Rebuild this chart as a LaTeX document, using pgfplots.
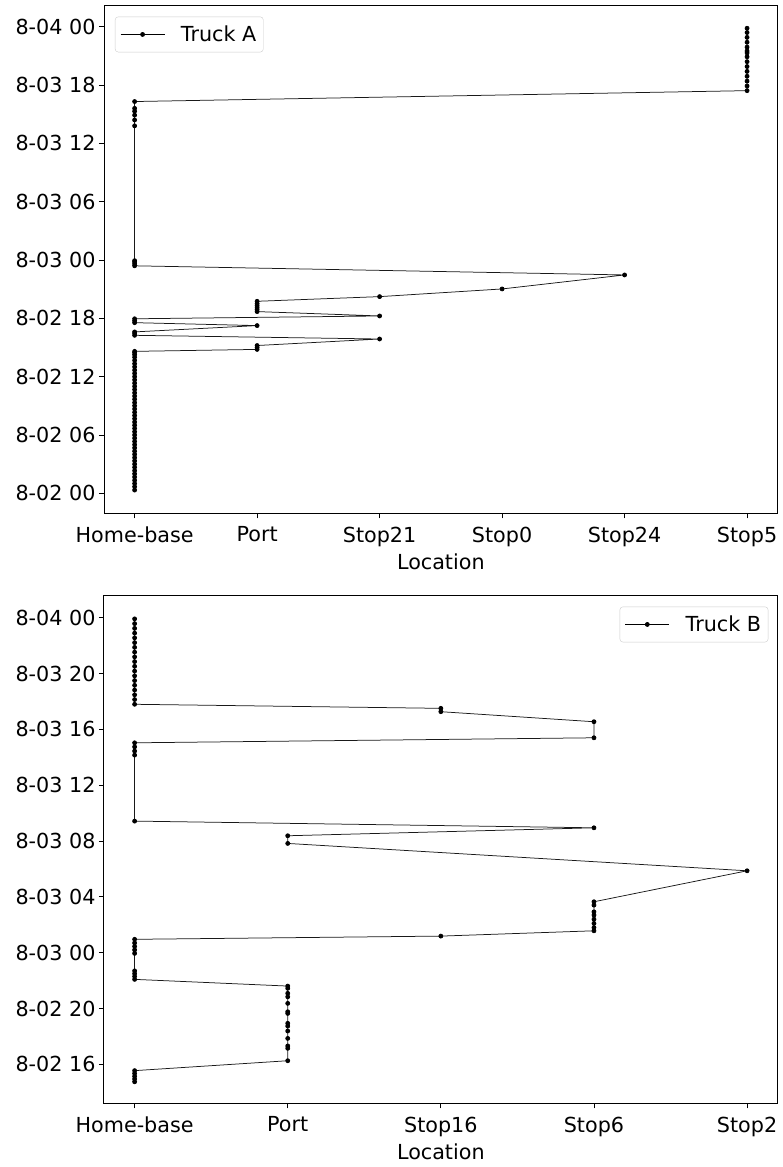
\documentclass[border=0pt]{standalone}
\usepackage{fontspec}
\setmainfont{DejaVu Sans}
\usepackage{pgfplots}
\pgfplotsset{compat=1.18}

\begin{document}
\begin{tikzpicture}[x=1pt,y=1pt]
\path[use as bounding box] (0,0) rectangle (782,1167);
\pgfplotsset{
  mystyle/.style={
    scale only axis, width=673.7pt, height=507.3pt, anchor=south west,
    axis line style={line width=1pt},
    tick align=outside, tick pos=left, major tick length=5pt,
    tick style={black, line width=0.8pt},
    font=\fontsize{20.7}{25}\selectfont,
    xlabel={Location},
    xticklabel style={yshift=-5pt},
    xlabel style={yshift=-0.5pt},
    xtick={0,1,2,3,4,5},
    legend cell align=left,
    legend image code/.code={\draw[black, line width=0.8pt] (0pt,0pt) -- (44pt,0pt); \fill[black] (22pt,0pt) circle (2pt); \path (58pt,0pt);},
    legend style={draw=black!20, rounded corners=3pt, fill=white, inner xsep=5pt, inner ysep=7pt, font=\fontsize{20.7}{25}\selectfont},
  },
  truck/.style={black!90, line width=0.75pt, mark=*, mark size=2pt, mark options={solid, fill=black, draw=black}},
}

\begin{axis}[mystyle, at={(104pt,653.7pt)},
  xmin=-0.25, xmax=5.25, ymin=-2.06, ymax=50.13,
  xticklabels={Home-base,Port,Stop21,Stop0,Stop24,Stop5},
  ytick={0,6,12,18,24,30,36,42,48},
  yticklabels={8-02 00,8-02 06,8-02 12,8-02 18,8-03 00,8-03 06,8-03 12,8-03 18,8-04 00},
  legend style={at={(0.0163,0.979)}, anchor=north west},
]
\addplot[truck] coordinates {
(0,0.33)(0,0.67)(0,1.00)(0,1.33)(0,1.67)(0,2.00)(0,2.33)(0,2.67)(0,3.00)(0,3.33)
(0,3.67)(0,4.00)(0,4.33)(0,4.67)(0,5.00)(0,5.33)(0,5.67)(0,6.00)(0,6.33)(0,6.67)
(0,7.00)(0,7.33)(0,7.67)(0,8.00)(0,8.33)(0,8.67)(0,9.00)(0,9.33)(0,9.67)(0,10.00)
(0,10.33)(0,10.67)(0,11.00)(0,11.33)(0,11.67)(0,12.00)(0,12.33)(0,12.67)(0,13.00)(0,13.33)
(0,13.67)(0,14.00)(0,14.25)(0,14.45)(0,14.60)
(1,14.80)(1,15.00)(1,15.20)
(2,15.87)
(0,16.25)(0,16.45)(0,16.60)
(1,17.25)
(0,17.55)(0,17.75)(0,17.95)
(2,18.24)
(1,18.69)(1,18.90)(1,19.10)(1,19.30)(1,19.50)(1,19.75)
(2,20.23)
(3,21.02)
(4,22.46)
(0,23.40)(0,23.60)(0,23.80)(0,23.93)
(0,37.80)(0,38.40)(0,38.90)(0,39.30)(0,39.60)(0,40.30)
(5,41.42)(5,41.90)(5,42.40)(5,42.90)(5,43.40)(5,43.90)(5,44.40)(5,44.90)(5,45.30)(5,45.50)
(5,45.90)(5,46.40)(5,46.90)(5,47.40)(5,47.84)
};
\addlegendentry{Truck A}
\end{axis}

\begin{axis}[mystyle, at={(104pt,63.7pt)},
  xmin=-0.2, xmax=4.2, ymin=13.21, ymax=49.56,
  xtick={0,1,2,3,4},
  xticklabels={Home-base,Port,Stop16,Stop6,Stop2},
  ytick={16,20,24,28,32,36,40,44,48},
  yticklabels={8-02 16,8-02 20,8-03 00,8-03 04,8-03 08,8-03 12,8-03 16,8-03 20,8-04 00},
  legend style={at={(0.986,0.979)}, anchor=north east},
]
\addplot[truck] coordinates {
(0,14.75)(0,14.95)(0,15.15)(0,15.35)(0,15.55)
(1,16.26)(1,17.15)(1,17.32)(1,17.86)(1,18.39)(1,18.74)(1,18.94)(1,19.65)(1,19.77)(1,20.37)
(1,20.84)(1,21.09)(1,21.45)(1,21.61)
(0,22.09)(0,22.30)(0,22.50)(0,22.70)
(0,23.95)(0,24.20)(0,24.45)(0,24.70)(0,24.96)
(2,25.19)
(3,25.57)(3,25.80)(3,26.10)(3,26.40)(3,26.70)(3,26.93)(3,27.41)(3,27.65)
(4,29.87)
(1,31.83)(1,32.38)
(3,32.95)
(0,33.43)(0,38.16)(0,38.45)(0,38.75)(0,39.04)
(3,39.40)(3,40.55)
(2,41.27)(2,41.51)
(0,41.80)(0,42.14)(0,42.48)(0,42.82)(0,43.16)(0,43.50)(0,43.84)(0,44.18)(0,44.52)(0,44.86)
(0,45.20)(0,45.54)(0,45.88)(0,46.22)(0,46.56)(0,46.90)(0,47.24)(0,47.58)(0,47.92)
};
\addlegendentry{Truck B}
\end{axis}
\end{tikzpicture}
\end{document}
